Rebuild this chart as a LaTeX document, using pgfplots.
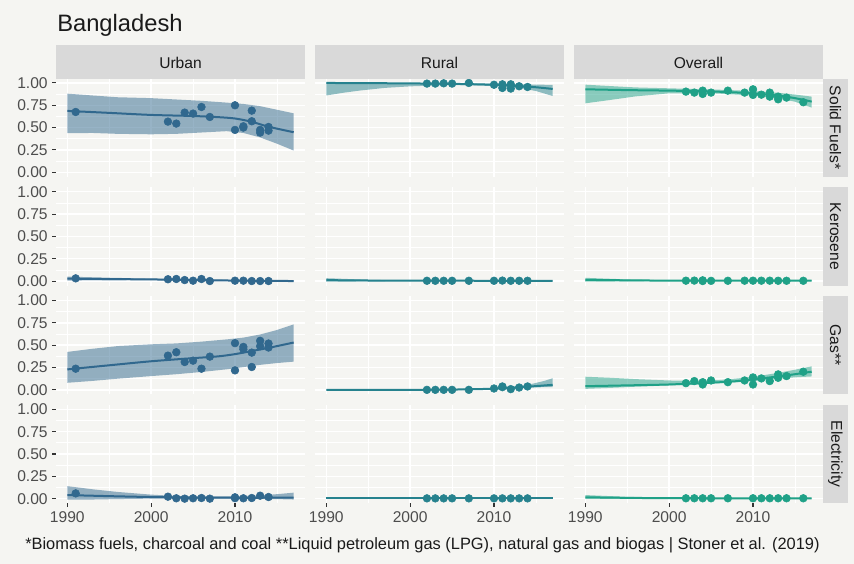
\documentclass[border=0pt]{standalone}
\usepackage{fontspec}
\setmainfont{Liberation Sans}
\usepackage{pgfplots}
\pgfplotsset{compat=1.18}
\definecolor{bg}{HTML}{F5F5F2}
\definecolor{stripc}{HTML}{D9D9D9}
\definecolor{cU}{HTML}{31688E}
\definecolor{cR}{HTML}{26828E}
\definecolor{cO}{HTML}{1FA187}
\definecolor{ticklab}{HTML}{4D4D4D}
\definecolor{txt}{HTML}{1A1A1A}

\pgfplotsset{
 panel/.style={
  scale only axis, width=186.75pt, height=73.65pt,
  xmin=1988.65, xmax=2018.35, ymin=-0.05, ymax=1.05,
  axis line style={draw=none},
  xtick={1990,2000,2010}, minor xtick={1995,2005,2015},
  ytick={0,0.25,0.5,0.75,1}, minor ytick={0.125,0.375,0.625,0.875},
  grid=both,
  major grid style={white, line width=1.1pt},
  minor grid style={white, line width=0.55pt},
  xticklabels={}, yticklabels={},
  major tick length=2.75pt, minor tick length=0pt,
  tick align=outside, xtick pos=bottom, ytick pos=left,
  xtick style={draw=none}, ytick style={draw=none},
  anchor=north west,
  /pgf/number format/assume math mode=true,
  tick label style={font=\fontsize{11.7}{13}\selectfont, text=ticklab},
 },
 leftcol/.style={yticklabels={0.00,0.25,0.50,0.75,1.00}, ytick style={draw=black!80, line width=0.8pt}},
 bottomrow/.style={xticklabels={1990,2000,2010}, xtick style={draw=black!80, line width=0.8pt}},
 pts/.style={only marks, mark=*, mark size=2.9pt, color=#1, mark options={fill=#1, draw=#1}},
 fit/.style={color=#1, line width=1.5pt, smooth, no markers},
 band/.style={fill=#1, fill opacity=0.5, draw=none, no markers},
}

\begin{document}
\begin{tikzpicture}
\fill[bg] (0,0) rectangle (640.5pt,-423pt);

% ---------- Row 1: Solid Fuels ----------
\begin{axis}[panel, leftcol, at={(42pt,-58.875pt)}]
\addplot[band=cU] coordinates {(1990,0.88)(1993,0.86)(1996,0.84)(2000,0.83)(2003,0.815)(2006,0.80)(2009,0.78)(2011,0.765)(2013,0.74)(2015,0.70)(2017,0.66)
 (2017,0.243)(2015,0.32)(2013,0.39)(2011,0.44)(2009,0.46)(2006,0.445)(2003,0.43)(2000,0.425)(1996,0.43)(1993,0.44)(1990,0.437)} -- cycle;
\addplot[fit=cU] coordinates {(1990,0.687)(1995,0.665)(2000,0.642)(2005,0.63)(2008,0.617)(2010,0.602)(2012,0.565)(2014,0.51)(2017,0.448)};
\addplot[pts=cU] table {
x y
1991 0.675
2002 0.567
2003 0.545
2004 0.668
2005 0.657
2006 0.731
2007 0.619
2010 0.750
2010 0.474
2011 0.515
2011 0.500
2012 0.690
2012 0.571
2013 0.474
2013 0.444
2014 0.507
2014 0.466
};
\end{axis}
\begin{axis}[panel, at={(236.25pt,-58.875pt)}]
\addplot[band=cR] coordinates {(1990,1.006)(1995,1.0)(2000,0.998)(2005,0.997)(2010,0.992)(2013,0.985)(2015,0.982)(2017,0.978)
 (2017,0.854)(2015,0.91)(2013,0.945)(2010,0.965)(2007,0.975)(2004,0.975)(2000,0.962)(1997,0.945)(1994,0.915)(1992,0.89)(1990,0.86)} -- cycle;
\addplot[fit=cR] coordinates {(1990,1.0)(1995,0.998)(2000,0.995)(2005,0.99)(2010,0.98)(2013,0.965)(2015,0.952)(2017,0.933)};
\addplot[pts=cR] table {
x y
2002 0.993
2003 0.993
2004 0.996
2005 0.993
2007 1.000
2010 0.980
2011 0.985
2011 0.944
2012 0.985
2012 0.937
2013 0.963
2014 0.955
};
\end{axis}
\begin{axis}[panel, at={(430.5pt,-58.875pt)}]
\addplot[band=cO] coordinates {(1990,0.981)(1993,0.965)(1996,0.95)(2000,0.94)(2005,0.928)(2010,0.91)(2013,0.89)(2015,0.87)(2017,0.847)
 (2017,0.724)(2015,0.79)(2013,0.83)(2010,0.86)(2005,0.885)(2000,0.884)(1996,0.85)(1993,0.81)(1990,0.772)} -- cycle;
\addplot[fit=cO] coordinates {(1990,0.929)(1995,0.92)(2000,0.914)(2005,0.905)(2010,0.884)(2013,0.858)(2015,0.83)(2017,0.791)};
\addplot[pts=cO] table {
x y
2002 0.903
2003 0.892
2004 0.914
2004 0.877
2005 0.892
2007 0.914
2009 0.892
2010 0.929
2010 0.866
2011 0.869
2012 0.892
2012 0.847
2013 0.847
2013 0.817
2014 0.836
2016 0.784
};
\end{axis}

% ---------- Row 2: Kerosene ----------
\begin{axis}[panel, leftcol, at={(42pt,-140.475pt)}]
\addplot[band=cU] coordinates {(1990,0.05)(1995,0.037)(2000,0.027)(2005,0.02)(2010,0.012)(2014,0.01)(2017,0.01)
 (2017,-0.01)(2014,-0.005)(2010,0.0)(2005,0.005)(2000,0.01)(1995,0.008)(1990,0.005)} -- cycle;
\addplot[fit=cU] coordinates {(1990,0.027)(1995,0.022)(2000,0.018)(2005,0.012)(2010,0.005)(2014,0.002)(2017,0.0)};
\addplot[pts=cU] table {
x y
1991 0.030
2002 0.020
2003 0.023
2004 0.011
2005 0.004
2006 0.023
2007 0.000
2010 0.004
2011 0.004
2012 0.000
2013 0.000
2014 0.000
};
\end{axis}
\begin{axis}[panel, at={(236.25pt,-140.475pt)}]
\addplot[band=cR] coordinates {(1990,0.032)(1995,0.014)(2000,0.006)(2005,0.006)(2010,0.006)(2017,0.008)
 (2017,-0.002)(2010,0.0)(2005,0.001)(2000,0.0)(1995,-0.004)(1990,-0.008)} -- cycle;
\addplot[fit=cR] coordinates {(1990,0.01)(1995,0.006)(2000,0.004)(2010,0.003)(2017,0.002)};
\addplot[pts=cR] table {
x y
2002 0.003
2003 0.003
2004 0.003
2005 0.003
2007 0.003
2010 0.003
2011 0.005
2012 0.003
2013 0.003
2014 0.003
};
\end{axis}
\begin{axis}[panel, at={(430.5pt,-140.475pt)}]
\addplot[band=cO] coordinates {(1990,0.036)(1995,0.018)(2000,0.008)(2005,0.007)(2010,0.007)(2017,0.009)
 (2017,-0.001)(2010,0.001)(2005,0.001)(2000,0.0)(1995,-0.004)(1990,-0.008)} -- cycle;
\addplot[fit=cO] coordinates {(1990,0.013)(1995,0.008)(2000,0.005)(2010,0.004)(2017,0.004)};
\addplot[pts=cO] table {
x y
2002 0.004
2003 0.005
2004 0.008
2004 0.000
2005 0.002
2007 0.003
2009 0.004
2010 0.004
2011 0.004
2012 0.004
2013 0.003
2014 0.003
2016 0.003
};
\end{axis}

% ---------- Row 3: Gas ----------
\begin{axis}[panel, leftcol, at={(42pt,-222.075pt)}]
\addplot[band=cU] coordinates {(1990,0.425)(1993,0.46)(1996,0.49)(2000,0.51)(2003,0.52)(2006,0.54)(2009,0.565)(2011,0.585)(2013,0.62)(2015,0.67)(2017,0.733)
 (2017,0.316)(2015,0.30)(2013,0.28)(2011,0.255)(2009,0.23)(2006,0.20)(2003,0.175)(2000,0.154)(1996,0.125)(1993,0.10)(1990,0.079)} -- cycle;
\addplot[fit=cU] coordinates {(1990,0.229)(1995,0.275)(2000,0.32)(2005,0.355)(2008,0.375)(2010,0.40)(2012,0.435)(2014,0.47)(2017,0.53)};
\addplot[pts=cU] table {
x y
1991 0.237
2002 0.383
2003 0.421
2004 0.312
2005 0.327
2006 0.237
2007 0.372
2010 0.523
2010 0.218
2011 0.481
2011 0.455
2012 0.417
2012 0.256
2013 0.549
2013 0.489
2014 0.519
2014 0.474
};
\end{axis}
\begin{axis}[panel, at={(236.25pt,-222.075pt)}]
\addplot[band=cR] coordinates {(1990,0.005)(2000,0.006)(2005,0.01)(2008,0.015)(2010,0.022)(2012,0.035)(2014,0.055)(2016,0.1)(2017,0.13)
 (2017,0.03)(2016,0.03)(2014,0.025)(2012,0.015)(2010,0.005)(2008,0.0)(2005,-0.003)(2000,-0.004)(1990,-0.004)} -- cycle;
\addplot[fit=cR] coordinates {(1990,0.0)(2000,0.0)(2005,0.003)(2008,0.008)(2010,0.013)(2012,0.022)(2014,0.035)(2017,0.056)};
\addplot[pts=cR] table {
x y
2002 0.000
2003 0.000
2004 0.000
2005 0.000
2007 0.000
2010 0.015
2011 0.038
2011 0.030
2012 0.008
2013 0.026
2014 0.038
};
\end{axis}
\begin{axis}[panel, at={(430.5pt,-222.075pt)}]
\addplot[band=cO] coordinates {(1990,0.147)(1993,0.135)(1996,0.12)(2000,0.105)(2003,0.1)(2006,0.11)(2009,0.135)(2011,0.16)(2013,0.19)(2015,0.225)(2017,0.263)
 (2017,0.15)(2015,0.14)(2013,0.125)(2011,0.105)(2009,0.09)(2006,0.075)(2003,0.06)(2000,0.05)(1996,0.035)(1993,0.022)(1990,0.011)} -- cycle;
\addplot[fit=cO] coordinates {(1990,0.041)(1995,0.05)(2000,0.06)(2005,0.08)(2008,0.097)(2010,0.117)(2013,0.15)(2015,0.175)(2017,0.203)};
\addplot[pts=cO] table {
x y
2002 0.075
2003 0.098
2004 0.086
2004 0.060
2005 0.105
2007 0.086
2009 0.105
2010 0.139
2010 0.060
2011 0.128
2012 0.098
2013 0.173
2013 0.135
2014 0.154
2016 0.203
};
\end{axis}

% ---------- Row 4: Electricity ----------
\begin{axis}[panel, leftcol, bottomrow, at={(42pt,-303.675pt)}]
\addplot[band=cU] coordinates {(1990,0.14)(1993,0.105)(1996,0.075)(2000,0.045)(2003,0.03)(2006,0.024)(2010,0.025)(2013,0.035)(2015,0.05)(2017,0.067)
 (2017,-0.01)(2015,-0.005)(2010,0.0)(2005,0.002)(2000,0.0)(1996,-0.005)(1993,-0.01)(1990,-0.01)} -- cycle;
\addplot[fit=cU] coordinates {(1990,0.04)(1995,0.028)(2000,0.018)(2005,0.012)(2010,0.01)(2014,0.01)(2017,0.01)};
\addplot[pts=cU] table {
x y
1991 0.059
2002 0.022
2003 0.004
2004 0.000
2005 0.004
2006 0.007
2007 0.000
2010 0.015
2010 0.005
2011 0.004
2012 0.007
2013 0.033
2014 0.018
};
\end{axis}
\begin{axis}[panel, bottomrow, at={(236.25pt,-303.675pt)}]
\addplot[band=cR] coordinates {(1990,0.008)(2000,0.005)(2017,0.005)(2017,-0.001)(2000,0.0)(1990,-0.003)} -- cycle;
\addplot[fit=cR] coordinates {(1990,0.002)(2000,0.002)(2010,0.002)(2017,0.002)};
\addplot[pts=cR] table {
x y
2002 0.003
2003 0.003
2004 0.003
2005 0.003
2007 0.003
2010 0.003
2011 0.003
2012 0.003
2013 0.003
2014 0.003
};
\end{axis}
\begin{axis}[panel, bottomrow, at={(430.5pt,-303.675pt)}]
\addplot[band=cO] coordinates {(1990,0.04)(1995,0.02)(2000,0.01)(2010,0.008)(2017,0.009)
 (2017,0.0)(2010,0.001)(2000,0.0)(1995,-0.002)(1990,-0.004)} -- cycle;
\addplot[fit=cO] coordinates {(1990,0.015)(1995,0.009)(2000,0.005)(2010,0.004)(2017,0.004)};
\addplot[pts=cO] table {
x y
2002 0.004
2003 0.004
2004 0.004
2005 0.004
2007 0.004
2010 0.004
2011 0.004
2012 0.004
2013 0.004
2014 0.004
2016 0.004
};
\end{axis}

% ---------- strips ----------
\foreach \x/\lab in {42/Urban, 236.25/Rural, 430.5/Overall}{
  \fill[stripc] (\x pt,-33.75pt) rectangle ({\x pt+186.75pt},-58.875pt);
  \node[anchor=base, text=txt, font=\fontsize{11.7}{13}\selectfont, inner sep=0pt] at ({\x pt+93.375pt},-51.3pt) {\lab};
}
\foreach \y/\lab in {58.875/Solid Fuels*, 140.475/Kerosene, 222.075/Gas**, 303.675/Electricity}{
  \fill[stripc] (617.25pt,-\y pt) rectangle (636pt,{-\y pt-73.65pt});
  \node[rotate=-90, anchor=center, text=txt, font=\fontsize{11.7}{13}\selectfont, inner sep=0pt] at (626.6pt,{-\y pt-36.8pt}) {\lab};
}

% ---------- title and caption ----------
\node[anchor=base west, text=txt, font=\fontsize{17.8}{20}\selectfont, inner sep=0pt] at (42.75pt,-23.8pt) {Bangladesh};
\node[anchor=base west, text=txt, font=\fontsize{12.3}{14}\selectfont, inner sep=0pt] at (18.75pt,-411.75pt) {*Biomass fuels, charcoal and coal **Liquid petroleum gas (LPG), natural gas and biogas | Stoner et al. (2019)};

\pgfresetboundingbox
\path (0,0) rectangle (640.5pt,-423pt);
\end{tikzpicture}
\end{document}
